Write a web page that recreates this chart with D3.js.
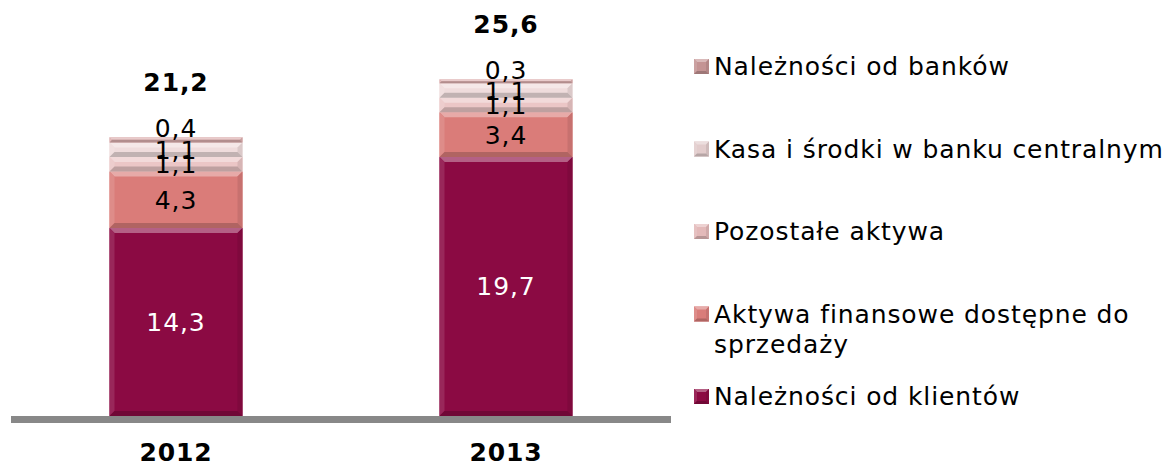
<!DOCTYPE html>
<html>
<head>
<meta charset="utf-8">
<script src="https://cdn.jsdelivr.net/npm/d3@7"></script>
<style>
  body { margin: 0; background: #fff; }
  text { font-family: "DejaVu Sans", Verdana, sans-serif; font-size: 25px; letter-spacing: 0.9px; }
</style>
</head>
<body>
<script>
// data (bn PLN)
const years = ["2012", "2013"];
const klienci = [14.3, 19.7];
const aktywaFin = [4.3, 3.4];
const pozostale = [1.1, 1.1];
const kasa = [1.1, 1.1];
const banki = [0.4, 0.3];
const totals = [21.2, 25.6];

const keys = ["klienci", "aktywaFin", "pozostale", "kasa", "banki"];
const names = {
  klienci: ["Należności od klientów"],
  aktywaFin: ["Aktywa finansowe dostępne do", "sprzedaży"],
  pozostale: ["Pozostałe aktywa"],
  kasa: ["Kasa i środki w banku centralnym"],
  banki: ["Należności od banków"]
};
const colors = {
  klienci: "#8b0a43",
  aktywaFin: "#da7c79",
  pozostale: "#ebc6c6",
  kasa: "#efdcdc",
  banki: "#ddafaf"
};
const legendColors = {
  klienci: "#8c0a42",
  aktywaFin: "#d97d7a",
  pozostale: "#e3b9b9",
  kasa: "#e2cccc",
  banki: "#c49494"
};

const width = 1172, height = 466;
const table = years.map((y, i) => ({
  year: y, klienci: klienci[i], aktywaFin: aktywaFin[i],
  pozostale: pozostale[i], kasa: kasa[i], banki: banki[i], total: totals[i]
}));

const svg = d3.select("body").append("svg")
  .attr("width", width)
  .attr("height", height);

const x = d3.scaleBand()
  .domain(years)
  .range([11, 671])
  .paddingInner(0.597)
  .paddingOuter(0.2985);
const y = d3.scaleLinear().domain([0, 30]).range([416, 21.5]);

const fmt = v => d3.format(".1f")(v).replace(".", ",");
const stack = d3.stack().keys(keys)(table);

// bevelled block: base fill + four edge trapezoids
const bevel = (g, x0, y0, w, h, c, b) => {
  const x1 = x0 + w, y1 = y0 + h;
  b = Math.min(b, h / 2, w / 2);
  const base = d3.color(c);
  g.append("rect").attr("x", x0).attr("y", y0).attr("width", w).attr("height", h).attr("fill", c);
  const poly = (pts, fill) => g.append("polygon").attr("points", pts.map(p => p.join(",")).join(" ")).attr("fill", fill);
  poly([[x0, y0], [x1, y0], [x1 - b, y0 + b], [x0 + b, y0 + b]], d3.interpolateRgb(c, "#fff")(0.35));
  poly([[x0, y0], [x0 + b, y0 + b], [x0 + b, y1 - b], [x0, y1]], d3.interpolateRgb(c, "#fff")(0.12));
  poly([[x1, y0], [x1, y1], [x1 - b, y1 - b], [x1 - b, y0 + b]], base.darker(0.25));
  poly([[x0, y1], [x0 + b, y1 - b], [x1 - b, y1 - b], [x1, y1]], base.darker(0.6));
};

//Bars
const gBars = svg.append("g");
stack.forEach(s => {
  s.forEach(d => {
    const g = gBars.append("g");
    bevel(g, x(d.data.year), y(d[1]), x.bandwidth(), y(d[0]) - y(d[1]), colors[s.key], 5);
  });
});

//Axis line
svg.append("rect")
  .attr("x", x.range()[0])
  .attr("y", y(0))
  .attr("width", x.range()[1] - x.range()[0])
  .attr("height", 7)
  .attr("fill", "#888888");

//Segment labels
stack.forEach(s => {
  gBars.selectAll(null)
    .data(s)
    .enter()
    .append("text")
    .attr("x", d => x(d.data.year) + x.bandwidth() / 2)
    .attr("y", d => (d[1] - d[0]) < 0.5 ? y(d[1]) : (y(d[0]) + y(d[1])) / 2)
    .attr("dy", d => (d[1] - d[0]) < 0.5 ? "0" : "0.36em")
    .attr("text-anchor", "middle")
    .attr("fill", s.key === "klienci" ? "#ffffff" : "#000000")
    .text(d => fmt(d[1] - d[0]));
});

//Totals
svg.append("g").selectAll("text")
  .data(table)
  .enter()
  .append("text")
  .attr("x", d => x(d.year) + x.bandwidth() / 2)
  .attr("y", d => y(d.total) - 46)
  .attr("text-anchor", "middle")
  .attr("font-weight", "bold")
  .text(d => fmt(d.total));

//Years
svg.append("g").selectAll("text")
  .data(years)
  .enter()
  .append("text")
  .attr("x", d => x(d) + x.bandwidth() / 2)
  .attr("y", 461)
  .attr("text-anchor", "middle")
  .attr("font-weight", "bold")
  .text(d => d);

//Legend
const legendKeys = keys.slice().reverse();
const ly = d3.scalePoint().domain(legendKeys).range([75, 405]);
const gLegend = svg.append("g").attr("id", "legend");
legendKeys.forEach(k => {
  const g = gLegend.append("g").attr("transform", "translate(694," + ly(k) + ")");
  bevel(g, 0, -16, 15, 15, legendColors[k], 3);
  g.append("text")
    .attr("x", 20)
    .attr("y", 0)
    .selectAll("tspan")
    .data(names[k])
    .enter()
    .append("tspan")
    .attr("x", 20)
    .attr("dy", (d, i) => i ? 30 : 0)
    .text(d => d);
});
</script>
</body>
</html>
